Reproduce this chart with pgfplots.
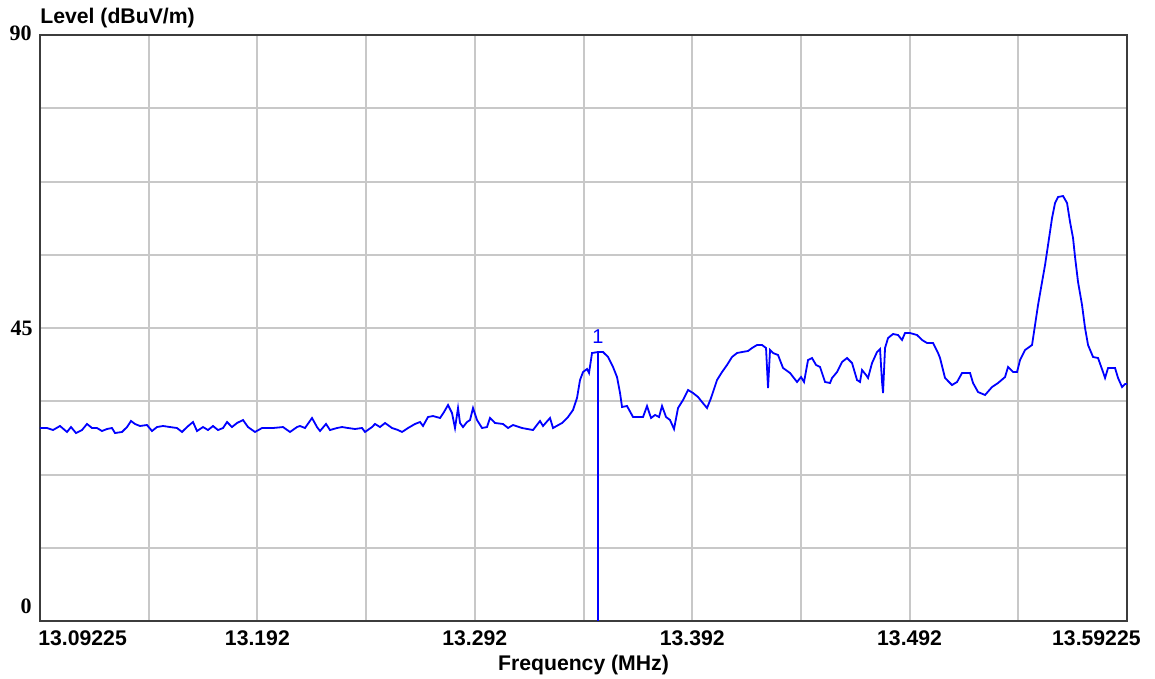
\documentclass[border=0pt]{standalone}
\usepackage{pgfplots}
\pgfplotsset{compat=1.18}
\usepackage{fontspec}
\setmainfont{Liberation Sans}
\newfontfamily\tnr{Liberation Serif}
\definecolor{trace}{RGB}{0,0,255}
\definecolor{gridc}{RGB}{200,200,200}
\definecolor{framec}{RGB}{60,60,60}
\begin{document}
\begin{tikzpicture}
\useasboundingbox (-20pt,-29pt) rectangle (557.5pt,310.5pt);
\begin{axis}[at={(0,0)}, anchor=south west, scale only axis,
 width=543.5pt, height=293pt,
 xmin=13.09225, xmax=13.59225, ymin=0, ymax=90,
 xtick={13.09225,13.14225,13.19225,13.24225,13.29225,13.34225,13.39225,13.44225,13.49225,13.54225,13.59225},
 ytick={0,11.25,22.5,33.75,45,56.25,67.5,78.75,90},
 xticklabels={}, yticklabels={}, major tick length=0pt,
 grid=major, major grid style={gridc, line width=1pt},
 axis line style={framec, line width=1.3pt},
 clip=false]
\addplot[trace, line width=0.9pt] coordinates {
(13.09225,29.64) (13.09547,29.64) (13.09823,29.33) (13.10145,29.95) (13.10467,29.03)
(13.10651,29.79) (13.10881,28.87) (13.11157,29.33) (13.11387,30.26) (13.11617,29.64)
(13.11847,29.64) (13.12077,29.18) (13.12307,29.49) (13.12537,29.64) (13.12675,28.87)
(13.12997,29.03) (13.13227,29.79) (13.13411,30.72) (13.13595,30.26) (13.13825,29.95)
(13.14147,30.10) (13.14377,29.18) (13.14607,29.79) (13.14883,29.95) (13.15205,29.79)
(13.15527,29.64) (13.15757,29.03) (13.15987,29.79) (13.16263,30.56) (13.16447,29.18)
(13.16723,29.79) (13.16953,29.33) (13.17183,29.95) (13.17413,29.33) (13.17643,29.64)
(13.17827,30.56) (13.18057,29.79) (13.18287,30.41) (13.18563,30.87) (13.18793,29.79)
(13.19115,29.03) (13.19437,29.64) (13.19943,29.64) (13.20403,29.79) (13.20725,29.03)
(13.21047,29.79) (13.21185,29.95) (13.21415,29.64) (13.21737,31.18) (13.21967,29.79)
(13.22105,29.18) (13.22381,30.26) (13.22565,29.33) (13.22887,29.64) (13.23117,29.79)
(13.23393,29.64) (13.23715,29.49) (13.24037,29.64) (13.24175,29.03) (13.24497,29.79)
(13.24635,30.26) (13.24865,29.79) (13.25095,30.41) (13.25417,29.64) (13.25693,29.33)
(13.25877,29.03) (13.26153,29.64) (13.26475,30.26) (13.26705,30.56) (13.26843,29.95)
(13.27073,31.33) (13.27303,31.48) (13.27625,31.18) (13.27809,32.10) (13.27993,33.17)
(13.28177,31.94) (13.28315,29.64) (13.28453,32.71) (13.28545,30.41) (13.28683,29.79)
(13.28867,30.56) (13.29005,30.87) (13.29143,32.71) (13.29327,30.87) (13.29557,29.64)
(13.29787,29.79) (13.29925,31.18) (13.30155,30.41) (13.30523,30.26) (13.30753,29.64)
(13.30983,30.10) (13.31397,29.64) (13.31903,29.33) (13.32225,30.72) (13.32363,29.95)
(13.32685,31.18) (13.32823,29.64) (13.33237,30.41) (13.33513,31.33) (13.33743,32.41)
(13.33927,34.25) (13.34065,37.01) (13.34203,38.24) (13.34387,38.70) (13.34479,38.09)
(13.34617,41.16) (13.34893,41.31) (13.35123,41.31) (13.35353,40.55) (13.35583,39.01)
(13.35767,37.47) (13.35905,35.02) (13.35997,32.87) (13.36227,33.02) (13.36503,31.33)
(13.36825,31.33) (13.36963,31.33) (13.37147,33.02) (13.37331,31.18) (13.37515,31.64)
(13.37699,31.33) (13.37837,33.02) (13.38021,31.33) (13.38205,30.87) (13.38389,29.49)
(13.38573,32.71) (13.38803,33.94) (13.39033,35.48) (13.39263,35.02) (13.39493,34.40)
(13.39677,33.63) (13.39907,32.71) (13.40091,34.25) (13.40367,37.01) (13.40597,38.24)
(13.40827,39.32) (13.41057,40.55) (13.41287,41.16) (13.41517,41.31) (13.41793,41.47)
(13.41977,41.93) (13.42207,42.39) (13.42437,42.39) (13.42621,41.93) (13.42713,35.78)
(13.42805,41.62) (13.42943,41.16) (13.43173,40.85) (13.43403,38.86) (13.43725,38.09)
(13.44047,36.71) (13.44231,37.47) (13.44369,36.71) (13.44553,40.08) (13.44737,40.39)
(13.44921,39.32) (13.45105,39.01) (13.45335,36.71) (13.45565,36.55) (13.45657,37.32)
(13.45887,38.24) (13.46117,39.78) (13.46347,40.39) (13.46577,39.62) (13.46807,37.01)
(13.46945,36.71) (13.47037,38.55) (13.47221,37.78) (13.47313,37.32) (13.47497,39.62)
(13.47727,41.31) (13.47865,41.77) (13.47957,36.71) (13.48003,35.02) (13.48095,41.93)
(13.48233,43.46) (13.48463,44.08) (13.48693,43.92) (13.48877,43.16) (13.49015,44.23)
(13.49245,44.23) (13.49567,43.92) (13.49797,43.16) (13.50027,42.70) (13.50303,42.70)
(13.50533,41.16) (13.50625,40.39) (13.50855,37.32) (13.51177,36.24) (13.51407,36.71)
(13.51637,38.09) (13.52005,38.09) (13.52143,36.55) (13.52373,35.17) (13.52695,34.71)
(13.53017,35.94) (13.53293,36.55) (13.53615,37.47) (13.53753,39.01) (13.53983,38.24)
(13.54167,38.24) (13.54305,40.08) (13.54535,41.62) (13.54857,42.39) (13.54995,45.46)
(13.55133,48.53) (13.55317,52.06) (13.55455,54.67) (13.55593,57.75) (13.55777,61.89)
(13.55915,64.20) (13.56053,65.12) (13.56283,65.27) (13.56467,64.20) (13.56605,61.28)
(13.56743,58.82) (13.56835,55.90) (13.56973,52.06) (13.57157,48.53) (13.57295,45.00)
(13.57433,42.39) (13.57663,40.55) (13.57893,40.39) (13.58123,38.24) (13.58215,37.32)
(13.58353,38.86) (13.58675,38.86) (13.58813,37.32) (13.58997,35.94) (13.59135,36.40)
(13.59225,36.40)
};
% marker 1
\addplot[trace, line width=0.9pt] coordinates {(13.34893,0) (13.34893,41.31)};
\node[anchor=south, inner sep=0pt, text=trace, font=\fontsize{10}{12}\selectfont, yshift=4pt] at (axis cs:13.34893,41.31) {1};
% title
\node[anchor=base west, inner sep=0pt, font=\fontsize{10.6}{12}\selectfont\bfseries, yshift=6pt] at (rel axis cs:0,1) {Level (dBuV/m)};
% y tick labels
\node[anchor=east, inner sep=0pt, font=\tnr\fontsize{11}{12}\selectfont\bfseries, xshift=-4pt, yshift=1pt] at (axis cs:13.09225,90) {90};
\node[anchor=east, inner sep=0pt, font=\tnr\fontsize{11}{12}\selectfont\bfseries, xshift=-3.5pt] at (axis cs:13.09225,45) {45};
\node[anchor=east, inner sep=0pt, font=\tnr\fontsize{11}{12}\selectfont\bfseries, xshift=-4pt, yshift=7.5pt] at (axis cs:13.09225,0) {0};
% x tick labels
\node[anchor=north west, inner sep=0pt, font=\fontsize{10.6}{12}\selectfont\bfseries, xshift=-1pt, yshift=-4.5pt] at (axis cs:13.09225,0) {13.09225};
\node[anchor=north, inner sep=0pt, font=\fontsize{10.6}{12}\selectfont\bfseries, yshift=-4.5pt] at (axis cs:13.19225,0) {13.192};
\node[anchor=north, inner sep=0pt, font=\fontsize{10.6}{12}\selectfont\bfseries, yshift=-4.5pt] at (axis cs:13.29225,0) {13.292};
\node[anchor=north, inner sep=0pt, font=\fontsize{10.6}{12}\selectfont\bfseries, yshift=-4.5pt] at (axis cs:13.39225,0) {13.392};
\node[anchor=north, inner sep=0pt, font=\fontsize{10.6}{12}\selectfont\bfseries, yshift=-4.5pt] at (axis cs:13.49225,0) {13.492};
\node[anchor=north east, inner sep=0pt, font=\fontsize{10.6}{12}\selectfont\bfseries, xshift=7pt, yshift=-4.5pt] at (axis cs:13.59225,0) {13.59225};
% x axis label
\node[anchor=north, inner sep=0pt, font=\fontsize{10.6}{12}\selectfont\bfseries, yshift=-17pt] at (rel axis cs:0.5,0) {Frequency (MHz)};
\end{axis}
\end{tikzpicture}
\end{document}
